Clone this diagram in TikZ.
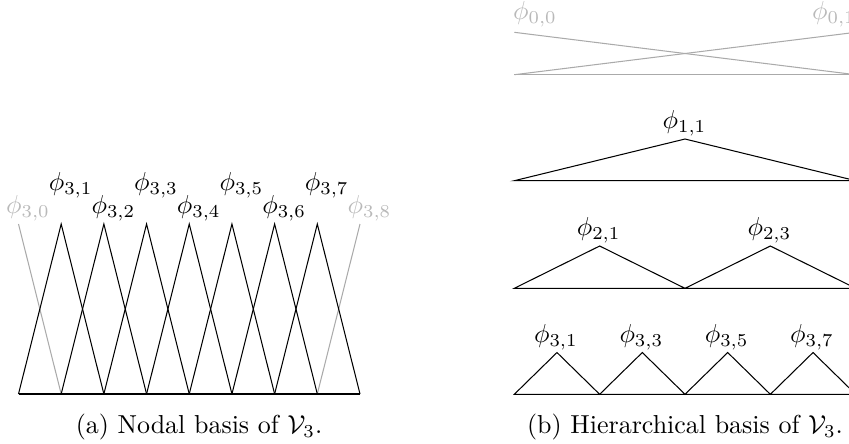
\documentclass[tikz,border=0pt]{standalone}
\usepackage{amsmath}
\usetikzlibrary{calc}
\definecolor{lgray}{RGB}{185,185,185}
\definecolor{lline}{RGB}{170,170,170}
\begin{document}
\begin{tikzpicture}[x=0.385pt,y=-0.385pt,
  basis/.style={black,line width=0.4pt,line join=miter},
  ghost/.style={lline,line width=0.4pt},
  lab/.style={inner sep=0pt,anchor=center},
  glab/.style={lab,text=lgray},
  captext/.style={inner sep=0pt,anchor=center}]
\useasboundingbox (0,0) rectangle (849,443);
\clip (0,0) rectangle (849,443);
% ---------- left: nodal basis ----------
\foreach \k in {0,...,8}{
  \coordinate (b\k) at ({18.5+\k*42.6875},394);
  \coordinate (p\k) at ({18.5+\k*42.6875},224);
}
\draw[ghost] (p0) -- (b1);
\draw[ghost] (b7) -- (p8);
\foreach \k [evaluate=\k as \km using int(\k-1), evaluate=\k as \kp using int(\k+1)] in {1,...,7}{
  \draw[basis] (b\km) -- (p\k) -- (b\kp);
}
\draw[basis] (b0) -- (b8);
\node[glab] (l30) at ($(p0)+(9.5,-16)$) {$\phi_{3,0}$};
\node[glab] (l38) at ($(p8)+(9.5,-16)$) {$\phi_{3,8}$};
\foreach \k in {1,3,5,7}{
  \node[lab] (l3\k) at ($(p\k)+(9.5,-39)$) {$\phi_{3,\k}$};
}
\foreach \k in {2,4,6}{
  \node[lab] (l3\k) at ($(p\k)+(9.5,-16)$) {$\phi_{3,\k}$};
}
\node[captext] (capa) at (199,427) {(a) Nodal basis of $\mathcal{V}_3$.};
% ---------- right: hierarchical basis ----------
% level 0
\coordinate (r0tl) at (514.3,32.3);
\coordinate (r0tr) at (855.7,32.3);
\coordinate (r0bl) at (514.3,74.7);
\coordinate (r0br) at (855.7,74.7);
\draw[ghost] (r0tl) -- (r0br);
\draw[ghost] (r0bl) -- (r0tr);
\draw[ghost] (r0bl) -- (r0br);
\node[glab] (l00) at (535,14.5) {$\phi_{0,0}$};
\node[glab] (l01) at (834,14.5) {$\phi_{0,1}$};
% level 1
\coordinate (r1l) at (514.3,180.7);
\coordinate (r1r) at (855.7,180.7);
\coordinate (r1p) at (685,139);
\draw[basis] (r1l) -- (r1p) -- (r1r) -- cycle;
\node[lab] (l11) at ($(r1p)+(-0.5,-16)$) {$\phi_{1,1}$};
% level 2
\foreach \j in {0,...,4}{ \coordinate (r2b\j) at ({514.3+\j*85.35},288.3); }
\coordinate (r2p1) at (599.65,246);
\coordinate (r2p3) at (770.35,246);
\draw[basis] (r2b0) -- (r2p1) -- (r2b2) -- (r2p3) -- (r2b4) -- cycle;
\node[lab] (l21) at ($(r2p1)+(-1,-16)$) {$\phi_{2,1}$};
\node[lab] (l23) at ($(r2p3)+(-1,-16)$) {$\phi_{2,3}$};
% level 3
\foreach \j in {0,...,8}{ \coordinate (r3b\j) at ({514.3+\j*42.675},394.3); }
\foreach \j in {1,3,5,7}{ \coordinate (r3p\j) at ({514.3+\j*42.675},352.5); }
\draw[basis] (r3b0) -- (r3p1) -- (r3b2) -- (r3p3) -- (r3b4) -- (r3p5) -- (r3b6) -- (r3p7) -- (r3b8) -- cycle;
\foreach \j in {1,3,5,7}{
  \node[lab] (l3h\j) at ($(r3p\j)+(-1,-15)$) {$\phi_{3,\j}$};
}
\node[captext] (capb) at (685,427) {(b) Hierarchical basis of $\mathcal{V}_3$.};
\end{tikzpicture}
\end{document}
